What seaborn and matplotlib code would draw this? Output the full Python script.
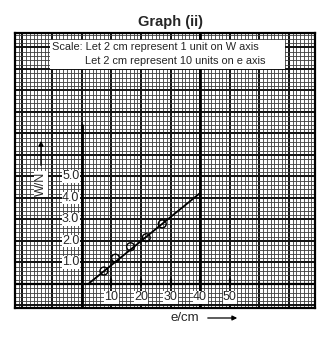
import numpy as np
import pandas as pd
import matplotlib
matplotlib.use("Agg")
import matplotlib.pyplot as plt
from matplotlib.patches import Rectangle, FancyArrowPatch
import seaborn as sns

# ---- data ----
e_points = [7.5, 11.4, 16.5, 21.8, 27.2]      # e / cm
w_points = [0.60, 1.20, 1.73, 2.15, 2.79]     # W / N
line_e = [2.5, 40.0]                          # best-fit line ends
line_w = [0.03, 4.23]
x_tick_values = [10, 20, 30, 40, 50]
x_tick_labels = ["10", "20", "30", "40", "50"]
y_tick_values = [1.0, 2.0, 3.0, 4.0, 5.0]
y_tick_labels = ["1.0", "2.0", "3.0", "4.0", "5.0"]
title = "Graph (ii)"
scale_lines = ["Scale: Let 2 cm represent 1 unit on W axis",
               "Let 2 cm represent 10 units on e axis"]
x_label = "e/cm"
y_label = "W/N"

sns.set_style("white")
plt.rcParams['font.family'] = ['Liberation Sans', 'DejaVu Sans']

W_PX, H_PX = 333, 342
fig = plt.figure(figsize=(W_PX / 100, H_PX / 100), dpi=100)
ax = fig.add_axes([15 / W_PX, 1 - 308 / H_PX, 300 / W_PX, 275 / H_PX])

xmin, xmax = -22.2, 78.7
ymin, ymax = -1.12, 11.67
ax.set_xlim(xmin, xmax)
ax.set_ylim(ymin, ymax)

# graph-paper grid
ax.set_xticks(np.arange(-20, 80, 10))
ax.set_xticks(np.arange(-22.5, 79, 1.25), minor=True)
ax.set_yticks(np.arange(-1, 12, 1))
ax.set_yticks(np.arange(-1.0, 11.7, 0.2), minor=True)
ax.grid(which='minor', color='#3c3c3c', lw=0.6)
ax.grid(which='major', color='#111111', lw=1.4)
ax.tick_params(which='both', length=0, labelbottom=False, labelleft=False)
ax.set_axisbelow(True)
for s in ax.spines.values():
    s.set_color('black')
    s.set_linewidth(1.6)

# heavy axis lines
ax.plot([0, 0], [ymin, 7.4], color='black', lw=2.0, zorder=3)
ax.axvline(40, color='black', lw=2.0, zorder=3)
ax.axhline(0, color='black', lw=1.6, zorder=3)

# fit line and points
df_line = pd.DataFrame({"e": line_e, "W": line_w})
df_pts = pd.DataFrame({"e": e_points, "W": w_points})
sns.lineplot(data=df_line, x="e", y="W", ax=ax, color='black', lw=1.3, zorder=4)
sns.scatterplot(data=df_pts, x="e", y="W", ax=ax, s=32, facecolor='none',
                edgecolor='black', linewidth=1.0, zorder=5)
ax.set_xlabel("")
ax.set_ylabel("")

# tick labels drawn inside the paper
for v, lab in zip(x_tick_values, x_tick_labels):
    ax.plot([v, v], [-0.05, 0.25], color='black', lw=1.6, zorder=4)
    ax.text(v, -0.62, lab, ha='center', va='center', fontsize=9, zorder=6,
            bbox=dict(facecolor='white', edgecolor='none', pad=0.3))
for v, lab in zip(y_tick_values, y_tick_labels):
    ax.text(-0.8, v, lab, ha='right', va='center', fontsize=9, zorder=6,
            bbox=dict(facecolor='white', edgecolor='none', pad=0.3))

# axis labels with arrows
fig.text(41 / W_PX, 1 - 184 / H_PX, y_label, rotation=90, ha='center',
         va='center', fontsize=9,
         bbox=dict(facecolor='white', edgecolor='none', pad=0.5))
fig.add_artist(FancyArrowPatch(
    (41 / W_PX, 1 - 168 / H_PX), (41 / W_PX, 1 - 138 / H_PX),
    transform=fig.transFigure, arrowstyle='-|>', mutation_scale=7,
    color='black', lw=1.0, zorder=12))
fig.text(185 / W_PX, 1 - 318 / H_PX, x_label, ha='center', va='center',
         fontsize=9.5)
fig.add_artist(FancyArrowPatch(
    (205 / W_PX, 1 - 318 / H_PX), (240 / W_PX, 1 - 318 / H_PX),
    transform=fig.transFigure, arrowstyle='-|>', mutation_scale=7,
    color='black', lw=0.9))

# scale box
fig.add_artist(Rectangle((50 / W_PX, 1 - 69 / H_PX), 235 / W_PX, 29 / H_PX,
                         transform=fig.transFigure, facecolor='white',
                         edgecolor='none', zorder=10))
fig.text(52 / W_PX, 1 - 47 / H_PX, scale_lines[0], ha='left', va='center',
         fontsize=7.9, zorder=11)
fig.text(85 / W_PX, 1 - 61 / H_PX, scale_lines[1], ha='left', va='center',
         fontsize=7.9, zorder=11)

fig.text(170 / W_PX, 1 - 22 / H_PX, title, ha='center', va='center',
         fontsize=10.5, fontweight='bold')

fig.savefig("out.png", dpi=100)
